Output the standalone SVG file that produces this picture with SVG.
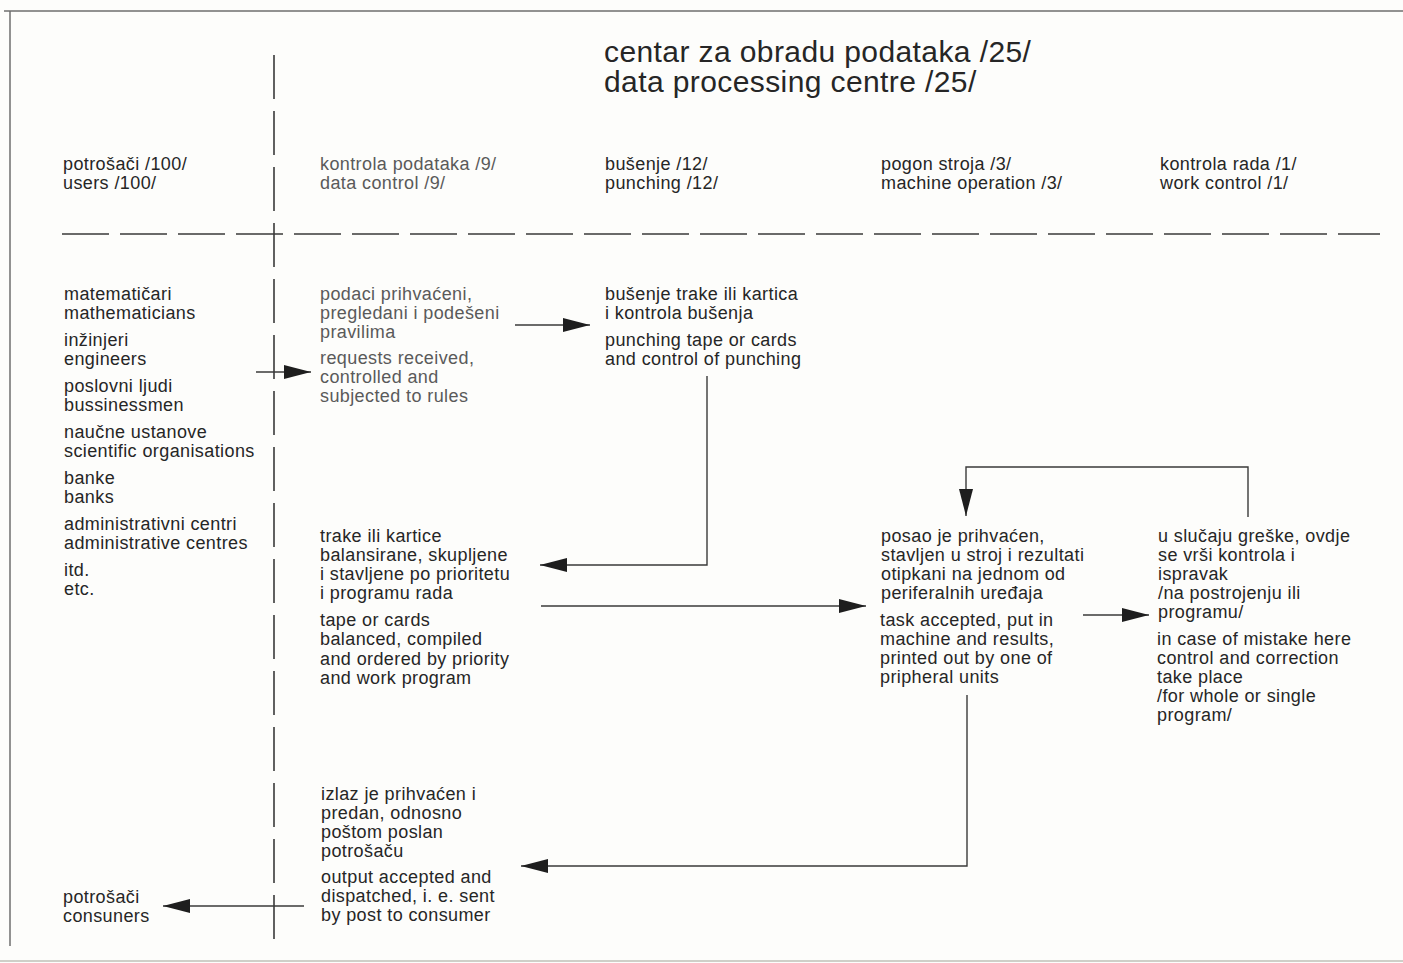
<svg xmlns="http://www.w3.org/2000/svg" width="1403" height="963" viewBox="0 0 1403 963">
  <style>
    .t { font-family: "Liberation Sans", Arial, Helvetica, sans-serif; font-size: 18px; fill: #262626; letter-spacing: 0.4px; }
    .lt { fill: #5a5a5a; }
    .title { font-family: "Liberation Sans", Arial, Helvetica, sans-serif; font-size: 30px; fill: #262626; letter-spacing: 0.4px; }
    .frame { stroke: #6e6e6e; stroke-width: 1.5; fill: none; }
    .div { stroke: #3a3a3a; stroke-width: 1.6; fill: none; }
    .conn { stroke: #3a3a3a; stroke-width: 1.4; fill: none; }
  </style>
  <defs>
    <marker id="ah" markerUnits="userSpaceOnUse" markerWidth="27" markerHeight="15" refX="27" refY="7.5" orient="auto">
      <path d="M0,0.5 L27,7.5 L0,14.5 Z" fill="#1e1e1e"/>
    </marker>
  </defs>

  <rect width="1403" height="963" fill="#fdfdfb"/>

  <!-- outer frame (top, left, bottom edge) -->
  <g id="frame">
    <line class="frame" x1="4" y1="11" x2="1403" y2="11"/>
    <line class="frame" x1="10" y1="11" x2="10" y2="946"/>
    <line x1="0" y1="961" x2="1403" y2="961" stroke="#cfcfc8" stroke-width="2"/>
  </g>

  <!-- dashed dividers: users | centre, header | body -->
  <g id="dividers">
    <line class="div" x1="274" y1="55" x2="274" y2="942" stroke-dasharray="44 12"/>
    <line class="div" x1="62" y1="234" x2="1380" y2="234" stroke-dasharray="47 11"/>
  </g>

  <g id="title">
    <text class="title" x="604" y="62">centar za obradu podataka /25/</text>
    <text class="title" x="604" y="92">data processing centre /25/</text>
  </g>

  <!-- column headers -->
  <g id="hdr-users">
    <text class="t" x="63" y="170">potrošači /100/</text>
    <text class="t" x="63" y="189">users /100/</text>
  </g>
  <g id="hdr-data-control">
    <text class="t lt" x="320" y="170">kontrola podataka /9/</text>
    <text class="t lt" x="320" y="189">data control /9/</text>
  </g>
  <g id="hdr-punching">
    <text class="t" x="605" y="170">bušenje /12/</text>
    <text class="t" x="605" y="189">punching /12/</text>
  </g>
  <g id="hdr-machine">
    <text class="t" x="881" y="170">pogon stroja /3/</text>
    <text class="t" x="881" y="189">machine operation /3/</text>
  </g>
  <g id="hdr-work-control">
    <text class="t" x="1160" y="170">kontrola rada /1/</text>
    <text class="t" x="1160" y="189">work control /1/</text>
  </g>

  <!-- users -->
  <g id="users">
    <text class="t" x="64" y="300">matematičari</text>
    <text class="t" x="64" y="319">mathematicians</text>
    <text class="t" x="64" y="346">inžinjeri</text>
    <text class="t" x="64" y="365">engineers</text>
    <text class="t" x="64" y="392">poslovni ljudi</text>
    <text class="t" x="64" y="411">bussinessmen</text>
    <text class="t" x="64" y="438">naučne ustanove</text>
    <text class="t" x="64" y="457">scientific organisations</text>
    <text class="t" x="64" y="484">banke</text>
    <text class="t" x="64" y="503">banks</text>
    <text class="t" x="64" y="530">administrativni centri</text>
    <text class="t" x="64" y="549">administrative centres</text>
    <text class="t" x="64" y="576">itd.</text>
    <text class="t" x="64" y="595">etc.</text>
  </g>

  <g id="requests">
    <text class="t lt" x="320" y="300">podaci prihvaćeni,</text>
    <text class="t lt" x="320" y="319">pregledani i podešeni</text>
    <text class="t lt" x="320" y="338">pravilima</text>
    <text class="t lt" x="320" y="364">requests received,</text>
    <text class="t lt" x="320" y="383">controlled and</text>
    <text class="t lt" x="320" y="402">subjected to rules</text>
  </g>

  <g id="punching">
    <text class="t" x="605" y="300">bušenje trake ili kartica</text>
    <text class="t" x="605" y="319">i kontrola bušenja</text>
    <text class="t" x="605" y="346">punching tape or cards</text>
    <text class="t" x="605" y="365">and control of punching</text>
  </g>

  <g id="tapes">
    <text class="t" x="320" y="542">trake ili kartice</text>
    <text class="t" x="320" y="561">balansirane, skupljene</text>
    <text class="t" x="320" y="580">i stavljene po prioritetu</text>
    <text class="t" x="320" y="599">i programu rada</text>
    <text class="t" x="320" y="626">tape or cards</text>
    <text class="t" x="320" y="645">balanced, compiled</text>
    <text class="t" x="320" y="665">and ordered by priority</text>
    <text class="t" x="320" y="684">and work program</text>
  </g>

  <g id="machine">
    <text class="t" x="881" y="542">posao je prihvaćen,</text>
    <text class="t" x="881" y="561">stavljen u stroj i rezultati</text>
    <text class="t" x="881" y="580">otipkani na jednom od</text>
    <text class="t" x="881" y="599">periferalnih uređaja</text>
    <text class="t" x="880" y="626">task accepted, put in</text>
    <text class="t" x="880" y="645">machine and results,</text>
    <text class="t" x="880" y="664">printed out by one of</text>
    <text class="t" x="880" y="683">pripheral units</text>
  </g>

  <g id="correction">
    <text class="t" x="1158" y="542">u slučaju greške, ovdje</text>
    <text class="t" x="1158" y="561">se vrši kontrola i</text>
    <text class="t" x="1158" y="580">ispravak</text>
    <text class="t" x="1158" y="599">/na postrojenju ili</text>
    <text class="t" x="1158" y="618">programu/</text>
    <text class="t" x="1157" y="645">in case of mistake here</text>
    <text class="t" x="1157" y="664">control and correction</text>
    <text class="t" x="1157" y="683">take place</text>
    <text class="t" x="1157" y="702">/for whole or single</text>
    <text class="t" x="1157" y="721">program/</text>
  </g>

  <g id="output">
    <text class="t" x="321" y="800">izlaz je prihvaćen i</text>
    <text class="t" x="321" y="819">predan, odnosno</text>
    <text class="t" x="321" y="838">poštom poslan</text>
    <text class="t" x="321" y="857">potrošaču</text>
    <text class="t" x="321" y="883">output accepted and</text>
    <text class="t" x="321" y="902">dispatched, i. e. sent</text>
    <text class="t" x="321" y="921">by post to consumer</text>
  </g>

  <g id="consumers">
    <text class="t" x="63" y="903">potrošači</text>
    <text class="t" x="63" y="922">consuners</text>
  </g>

  <!-- flow connectors -->
  <g id="connectors">
    <path class="conn" d="M256,372 H311" marker-end="url(#ah)"/>
    <path class="conn" d="M515,325 H590" marker-end="url(#ah)"/>
    <path class="conn" d="M707,376 V565 H540" marker-end="url(#ah)"/>
    <path class="conn" d="M541,606 H866" marker-end="url(#ah)"/>
    <path class="conn" d="M1083,615 H1149" marker-end="url(#ah)"/>
    <path class="conn" d="M1248,517 V467 H966 V516" marker-end="url(#ah)"/>
    <path class="conn" d="M967,695 V866 H521" marker-end="url(#ah)"/>
    <path class="conn" d="M304,906 H163" marker-end="url(#ah)"/>
  </g>
</svg>
